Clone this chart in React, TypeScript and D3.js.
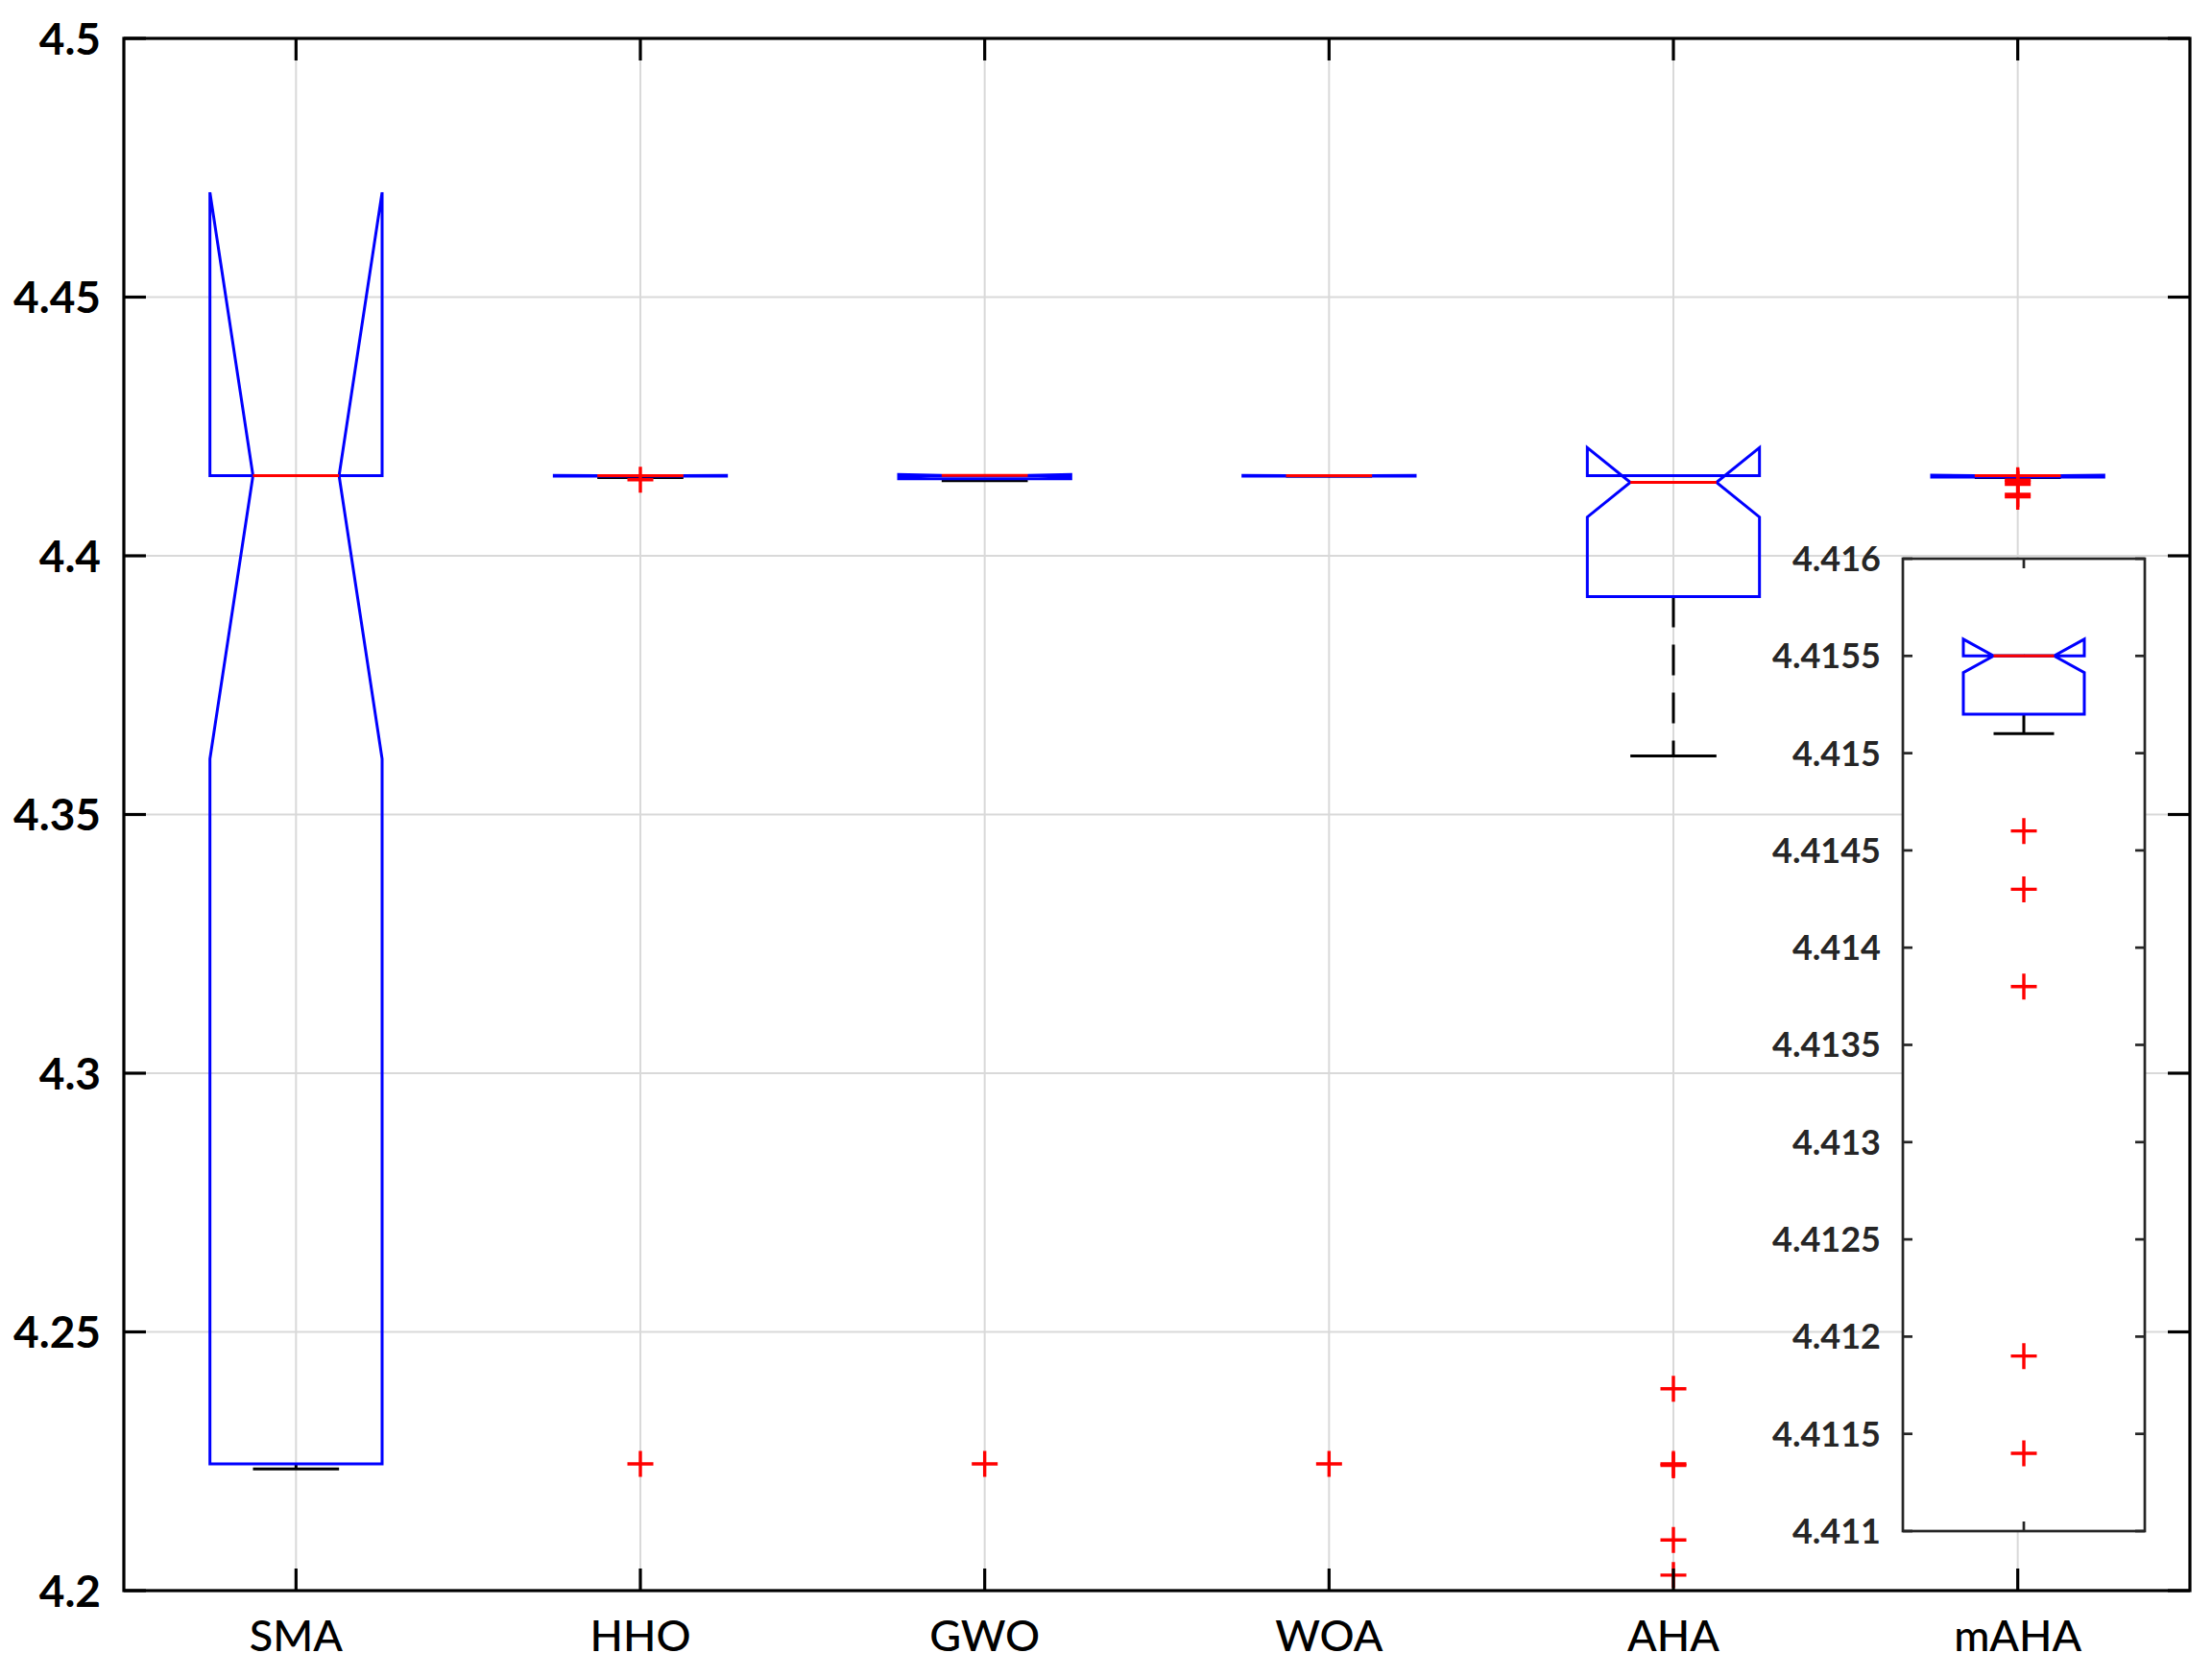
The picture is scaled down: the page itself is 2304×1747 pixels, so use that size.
import { useEffect, useRef } from "react";
import * as d3 from "d3";

const categories = ["SMA", "HHO", "GWO", "WOA", "AHA", "mAHA"];
const q1 = [4.2245, 4.4154, 4.4149, 4.4154, 4.3921, 4.4152];
const medians = [4.4155, 4.4155, 4.41553, 4.4155, 4.4142, 4.4155];
const q3 = [4.4155, 4.4155, 4.4155, 4.4155, 4.4155, 4.4155];
const whiskerLo = [4.2235, 4.4151, 4.4145, 4.4154, 4.3613, 4.4151];
const whiskerHi = [4.4155, 4.4155, 4.4155, 4.4155, 4.4155, 4.4155];
const outliers = [
  [],
  [4.4147, 4.2245],
  [4.2245],
  [4.2245],
  [4.239, 4.2245, 4.2242, 4.2098, 4.203],
  [4.4146, 4.4143, 4.4138, 4.4119, 4.4114],
];
const sampleSize = 30;
const mainTicks = [4.2, 4.25, 4.3, 4.35, 4.4, 4.45, 4.5];
const insetTicks = [4.411, 4.4115, 4.412, 4.4125, 4.413, 4.4135, 4.414, 4.4145, 4.415, 4.4155, 4.416];

const W = 2304;
const H = 1747;

type Lin = d3.ScaleLinear<number, number>;

// one MATLAB-style notched box at category position c
const drawBox = (g: d3.Selection<SVGGElement, unknown, null, undefined>, x: Lin, y: Lin, i: number, c: number) => {
  const L = x(c - 0.25);
  const R = x(c + 0.25);
  const ind = (R - L) / 4;
  const notch = (1.57 * (q3[i] - q1[i])) / Math.sqrt(sampleSize);
  const nlo = medians[i] - notch;
  const nhi = medians[i] + notch;

  // whiskers
  g.append("line")
    .attr("x1", x(c)).attr("x2", x(c))
    .attr("y1", y(q1[i])).attr("y2", y(whiskerLo[i]))
    .attr("stroke", "#000").attr("stroke-width", 3)
    .attr("stroke-dasharray", "32 18");
  g.append("line")
    .attr("x1", x(c)).attr("x2", x(c))
    .attr("y1", y(q3[i])).attr("y2", y(whiskerHi[i]))
    .attr("stroke", "#000").attr("stroke-width", 3)
    .attr("stroke-dasharray", "32 18");
  [whiskerLo[i], whiskerHi[i]].forEach((v) => {
    g.append("line")
      .attr("x1", x(c - 0.125)).attr("x2", x(c + 0.125))
      .attr("y1", y(v)).attr("y2", y(v))
      .attr("stroke", "#000").attr("stroke-width", 3);
  });

  const pts: [number, number][] = [
    [L, y(q1[i])], [L, y(nlo)], [L + ind, y(medians[i])], [L, y(nhi)], [L, y(q3[i])],
    [R, y(q3[i])], [R, y(nhi)], [R - ind, y(medians[i])], [R, y(nlo)], [R, y(q1[i])],
  ];
  g.append("path")
    .attr("d", d3.line()(pts) + "Z")
    .attr("fill", "none").attr("stroke", "#0000ff").attr("stroke-width", 3)
    .attr("stroke-linejoin", "miter");

  g.append("line")
    .attr("x1", L + ind).attr("x2", R - ind)
    .attr("y1", y(medians[i])).attr("y2", y(medians[i]))
    .attr("stroke", "#ff0000").attr("stroke-width", 3);

  outliers[i].forEach((v) => {
    const cx = x(c);
    const cy = y(v);
    g.append("path")
      .attr("d", `M${cx - 13.5},${cy}H${cx + 13.5}M${cx},${cy - 13.5}V${cy + 13.5}`)
      .attr("stroke", "#ff0000").attr("stroke-width", 3.4).attr("fill", "none");
  });
};

const App = () => {
  const svgRef = useRef<SVGSVGElement>(null);

  useEffect(() => {
    if (!svgRef.current) return;
    document.body.style.margin = "0";
    const svg = d3.select(svgRef.current);
    svg.selectAll("*").remove();

    const x = d3.scaleLinear().domain([0.5, 6.5]).range([129, 2281]);
    const y = d3.scaleLinear().domain([4.2, 4.5]).range([1657, 40]);

    svg.append("rect").attr("width", W).attr("height", H).attr("fill", "#fff");

    // grid
    const grid = svg.append("g").attr("stroke", "#d9d9d9").attr("stroke-width", 2);
    mainTicks.forEach((t) => {
      grid.append("line").attr("x1", x(0.5)).attr("x2", x(6.5)).attr("y1", y(t)).attr("y2", y(t));
    });
    categories.forEach((_, i) => {
      grid.append("line").attr("x1", x(i + 1)).attr("x2", x(i + 1)).attr("y1", y(4.2)).attr("y2", y(4.5));
    });

    const boxes = svg.append("g");
    categories.forEach((_, i) => drawBox(boxes, x, y, i, i + 1));

    // main axes frame + ticks
    const ax = svg.append("g").attr("stroke", "#000").attr("stroke-width", 3.2);
    ax.append("rect")
      .attr("x", x(0.5)).attr("y", y(4.5))
      .attr("width", x(6.5) - x(0.5)).attr("height", y(4.2) - y(4.5))
      .attr("fill", "none");
    mainTicks.forEach((t) => {
      ax.append("line").attr("x1", x(0.5)).attr("x2", x(0.5) + 23).attr("y1", y(t)).attr("y2", y(t));
      ax.append("line").attr("x1", x(6.5)).attr("x2", x(6.5) - 23).attr("y1", y(t)).attr("y2", y(t));
    });
    categories.forEach((_, i) => {
      ax.append("line").attr("x1", x(i + 1)).attr("x2", x(i + 1)).attr("y1", y(4.2)).attr("y2", y(4.2) - 23);
      ax.append("line").attr("x1", x(i + 1)).attr("x2", x(i + 1)).attr("y1", y(4.5)).attr("y2", y(4.5) + 23);
    });

    svg.append("g")
      .selectAll("text")
      .data(mainTicks)
      .join("text")
      .attr("x", 105)
      .attr("y", (d) => y(d))
      .attr("dy", "0.36em")
      .attr("text-anchor", "end")
      .attr("font-family", "Lato, sans-serif")
      .attr("font-weight", "bold")
      .attr("font-size", 46)
      .attr("fill", "#000")
      .text((d) => d3.format("")(d));

    svg.append("g")
      .selectAll("text")
      .data(categories)
      .join("text")
      .attr("x", (_, i) => x(i + 1))
      .attr("y", 1720)
      .attr("text-anchor", "middle")
      .attr("font-family", "Lato, sans-serif")
      .attr("font-weight", 500)
      .attr("font-size", 45)
      .attr("fill", "#000")
      .text((d) => d);

    // inset zoom on mAHA
    const ix = d3.scaleLinear().domain([0.5, 1.5]).range([1982, 2234]);
    const iy = d3.scaleLinear().domain([4.411, 4.416]).range([1595, 582]);
    const inset = svg.append("g");
    inset.append("rect")
      .attr("x", ix(0.5)).attr("y", iy(4.416))
      .attr("width", ix(1.5) - ix(0.5)).attr("height", iy(4.411) - iy(4.416))
      .attr("fill", "#fff");
    drawBox(inset, ix, iy, 5, 1);
    const iax = inset.append("g").attr("stroke", "#262626").attr("stroke-width", 2.7);
    iax.append("rect")
      .attr("x", ix(0.5)).attr("y", iy(4.416))
      .attr("width", ix(1.5) - ix(0.5)).attr("height", iy(4.411) - iy(4.416))
      .attr("fill", "none");
    insetTicks.forEach((t) => {
      iax.append("line").attr("x1", ix(0.5)).attr("x2", ix(0.5) + 10).attr("y1", iy(t)).attr("y2", iy(t));
      iax.append("line").attr("x1", ix(1.5)).attr("x2", ix(1.5) - 10).attr("y1", iy(t)).attr("y2", iy(t));
    });
    iax.append("line").attr("x1", ix(1)).attr("x2", ix(1)).attr("y1", iy(4.411)).attr("y2", iy(4.411) - 10);
    iax.append("line").attr("x1", ix(1)).attr("x2", ix(1)).attr("y1", iy(4.416)).attr("y2", iy(4.416) + 10);

    inset.append("g")
      .selectAll("text")
      .data(insetTicks)
      .join("text")
      .attr("x", 1959)
      .attr("y", (d) => iy(d))
      .attr("dy", "0.36em")
      .attr("text-anchor", "end")
      .attr("font-family", "Lato, sans-serif")
      .attr("font-weight", "bold")
      .attr("font-size", 36)
      .attr("fill", "#262626")
      .text((d) => d3.format("")(d));
  }, []);

  return <svg ref={svgRef} width={W} height={H} style={{ display: "block" }} />;
};

export default App;
